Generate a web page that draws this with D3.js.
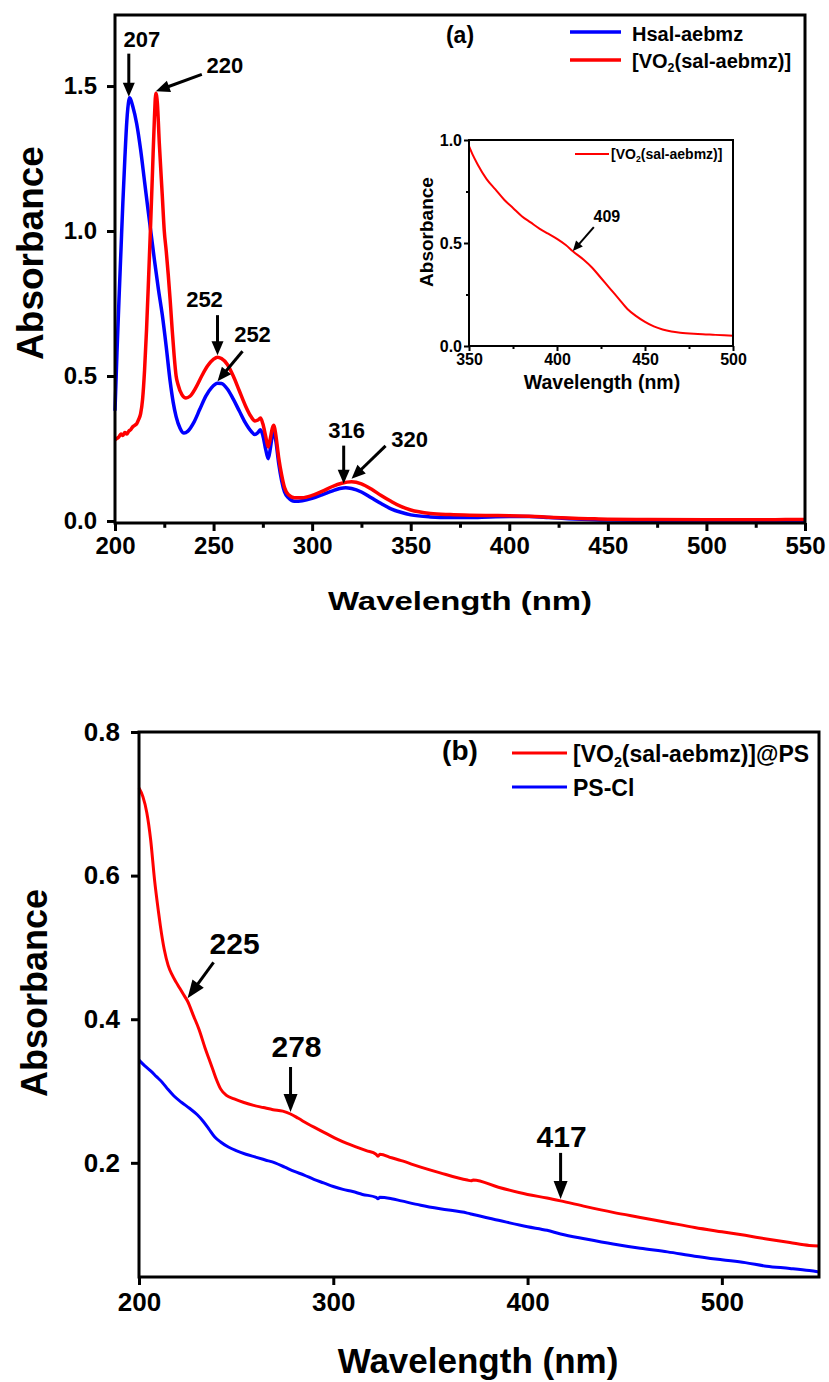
<!DOCTYPE html>
<html>
<head>
<meta charset="utf-8">
<script src="https://cdn.jsdelivr.net/npm/d3@7"></script>
<style>
  body { margin: 0; background: #fff; }
  text { font-family: "Liberation Sans", Arial, sans-serif; font-weight: bold; fill: #000; }
</style>
</head>
<body>
<script>
// ---- data ----
// panel (a): free ligand and complex, [wavelength nm, absorbance]
var hsal = [[200,0.38],[201,0.58],[202,0.76],[203,0.93],[204,1.1],[205,1.25],[206,1.38],[207,1.45],[207.5,1.46],
  [209,1.43],[211,1.37],[213,1.28],[215,1.17],[217,1.06],[218.5,0.98],[220,0.9],[222,0.8],[224,0.71],[226,0.6],
  [228,0.48],[229.5,0.41],[231,0.36],[233,0.32],[235,0.303],[237,0.31],[240,0.34],[243,0.385],[246,0.43],[249,0.46],
  [252,0.475],[254,0.474],[257,0.455],[260,0.42],[263,0.38],[266,0.34],[269,0.31],[271,0.298],[272.5,0.305],
  [273.8,0.315],[275,0.295],[276.5,0.245],[277.7,0.215],[278.8,0.25],[279.8,0.295],[280.6,0.305],[281.5,0.28],
  [283,0.2],[284.5,0.14],[286,0.1],[288,0.08],[291,0.068],[295,0.07],[300,0.078],[305,0.09],[310,0.103],[314,0.112],
  [317,0.115],[320,0.112],[325,0.1],[330,0.08],[335,0.06],[340,0.042],[345,0.03],[350,0.021],[360,0.014],[370,0.012],
  [380,0.012],[390,0.014],[400,0.015],[410,0.015],[420,0.012],[430,0.008],[440,0.005],[450,0.003],[470,0.002],
  [500,0.001],[550,0.0]];
var vo2 = [[200,0.28],[201,0.285],[202,0.29],[203,0.3],[204,0.295],[205,0.305],[206,0.3],[207,0.31],[208,0.315],
  [209,0.325],[210,0.33],[211,0.335],[212,0.35],[213,0.37],[214,0.42],[215,0.52],[216,0.66],[217,0.83],[218,1.01],
  [219,1.2],[220,1.39],[220.7,1.475],[221.5,1.44],[222.5,1.3],[224,1.12],[225,1.0],[226,0.93],[227,0.85],[228,0.76],
  [229,0.66],[230,0.57],[231,0.5],[232,0.47],[234,0.435],[236,0.424],[238,0.43],[241,0.46],[244,0.5],[247,0.535],
  [250,0.558],[252,0.565],[254,0.56],[257,0.54],[260,0.5],[263,0.45],[266,0.4],[269,0.36],[271,0.345],[272.5,0.348],
  [273.8,0.355],[275,0.335],[276.5,0.29],[277.7,0.255],[278.8,0.285],[279.8,0.32],[280.6,0.33],[281.5,0.3],
  [283,0.22],[284.5,0.16],[286,0.115],[288,0.09],[291,0.08],[295,0.08],[300,0.088],[305,0.102],[310,0.118],
  [315,0.13],[320,0.135],[325,0.128],[330,0.11],[335,0.088],[340,0.068],[345,0.05],[350,0.038],[360,0.026],
  [370,0.022],[380,0.02],[390,0.019],[400,0.018],[410,0.016],[420,0.013],[430,0.01],[440,0.008],[450,0.006],
  [470,0.005],[500,0.004],[530,0.004],[540,0.005],[550,0.005]];
// inset: complex, visible region
var vo2Vis = [[350,0.97],[352,0.93],[355,0.88],[360,0.81],[365,0.76],[370,0.71],[375,0.67],[380,0.63],[385,0.6],
  [390,0.57],[395,0.545],[400,0.52],[405,0.49],[409,0.46],[415,0.42],[420,0.38],[425,0.33],[430,0.28],[435,0.23],
  [440,0.18],[445,0.145],[450,0.117],[455,0.095],[460,0.08],[465,0.07],[470,0.064],[480,0.058],[490,0.054],[500,0.05]];
// panel (b): supported catalyst and support
var vo2PS = [[200,0.722],[202,0.71],[204,0.688],[206,0.65],[208,0.594],[210,0.55],[211,0.53],[213,0.497],[215,0.475],
  [217,0.462],[219,0.452],[221,0.443],[223,0.434],[225,0.425],[228,0.405],[231,0.385],[234,0.36],[236,0.345],
  [238,0.33],[240,0.315],[242,0.303],[245,0.294],[249,0.289],[254,0.284],[259,0.28],[264,0.277],[269,0.274],
  [274,0.272],[278,0.268],[282,0.262],[287,0.254],[292,0.247],[297,0.24],[302,0.233],[307,0.227],[312,0.222],
  [317,0.217],[322,0.212],[323,0.209],[324,0.212],[330,0.207],[335,0.203],[345,0.194],[355,0.186],[369,0.176],
  [371,0.175],[372,0.176],[385,0.166],[400,0.156],[410,0.151],[417,0.147],[430,0.139],[444,0.131],[458,0.124],
  [472,0.117],[486,0.11],[500,0.104],[512,0.099],[523,0.094],[535,0.089],[545,0.085],[550,0.084]];
var psCl = [[200,0.343],[203,0.335],[206,0.328],[209,0.32],[212,0.312],[215,0.302],[218,0.293],[222,0.284],
  [226,0.276],[230,0.267],[233,0.258],[236,0.247],[239,0.236],[242,0.229],[246,0.222],[250,0.217],[255,0.212],
  [260,0.208],[265,0.204],[270,0.2],[275,0.194],[280,0.188],[285,0.183],[290,0.177],[295,0.172],[300,0.167],
  [305,0.163],[310,0.16],[315,0.156],[322,0.152],[323,0.15],[324,0.152],[330,0.15],[335,0.147],[345,0.141],
  [355,0.136],[369,0.13],[372,0.128],[385,0.12],[400,0.111],[410,0.106],[417,0.101],[430,0.094],[444,0.087],
  [458,0.081],[472,0.076],[486,0.07],[500,0.065],[512,0.061],[523,0.056],[535,0.053],[545,0.05],[550,0.048]];

// marked peaks: [wavelength, absorbance, label]
var peaksA = [[207,1.46,"207"],[220.7,1.475,"220"],[252,0.565,"252"],[252,0.475,"252"],[316,0.115,"316"],[320,0.135,"320"]];
var peaksInset = [[409,0.456,"409"]];
var peaksB = [[225,0.425,"225"],[278,0.268,"278"],[417,0.147,"417"]];

// tick values
var xTicksA = [200,250,300,350,400,450,500,550], xMinorA = [225,275,325,375,425,475,525],
    yTicksA = [0,0.5,1.0,1.5];
var xTicksIn = [350,400,450,500], xMinorIn = [375,425,475], yTicksIn = [0,0.5,1.0], yMinorIn = [0.25,0.75];
var xTicksB = [200,300,400,500], yTicksB = [0.2,0.4,0.6,0.8];

var BLUE = "#0000ff", RED = "#ff0000";

var svg = d3.select("body").append("svg").attr("width", 829).attr("height", 1382);
svg.append("rect").attr("width", 829).attr("height", 1382).attr("fill", "#fff");

function arrow(g, x1, y1, x2, y2, hl, hw, sw) {
  var a = Math.atan2(y2 - y1, x2 - x1), c = Math.cos(a), s = Math.sin(a);
  var bx = x2 - hl * c, by = y2 - hl * s;
  g.append("line").attr("x1", x1).attr("y1", y1).attr("x2", bx + c).attr("y2", by + s)
    .attr("stroke", "#000").attr("stroke-width", sw);
  g.append("path").attr("fill", "#000")
    .attr("d", "M" + x2 + "," + y2 + "L" + (bx - hw / 2 * s) + "," + (by + hw / 2 * c) +
               "L" + (bx + hw / 2 * s) + "," + (by - hw / 2 * c) + "Z");
}

function legendLabel(t, base, size) {
  t.append("tspan").text("[VO");
  t.append("tspan").text("2").attr("font-size", size * 0.62).attr("dy", size * 0.22);
  t.append("tspan").text("(sal-aebmz)]" + base).attr("dy", -size * 0.22);
}

function axes(g, x, y, o) {
  var H = y.range()[0], L = x.range()[0];
  g.append("g").attr("transform", "translate(0," + H + ")")
    .call(d3.axisBottom(x).tickValues(o.xt).tickSize(o.tl).tickSizeOuter(0).tickPadding(o.xp).tickFormat(d3.format("d")));
  if (o.xm) g.append("g").attr("transform", "translate(0," + H + ")")
    .call(d3.axisBottom(x).tickValues(o.xm).tickSize(o.tl * 0.6).tickSizeOuter(0).tickFormat(""));
  g.append("g").attr("transform", "translate(" + L + ",0)")
    .call(d3.axisLeft(y).tickValues(o.yt).tickSize(o.tl).tickSizeOuter(0).tickPadding(o.yp).tickFormat(d3.format(".1f")));
  if (o.ym) g.append("g").attr("transform", "translate(" + L + ",0)")
    .call(d3.axisLeft(y).tickValues(o.ym).tickSize(o.tl * 0.6).tickSizeOuter(0).tickFormat(""));
  g.selectAll(".domain").remove();
  g.selectAll(".tick line").attr("stroke", "#000").attr("stroke-width", o.sw);
  g.selectAll(".tick text").attr("font-size", o.fs).attr("font-family", "Liberation Sans, Arial, sans-serif")
    .attr("font-weight", "bold").attr("fill", "#000");
  g.append("rect").attr("x", L).attr("y", y.range()[1]).attr("width", x.range()[1] - L)
    .attr("height", H - y.range()[1]).attr("fill", "none").attr("stroke", "#000").attr("stroke-width", o.sw);
}

// ================= panel (a) =================
var xA = d3.scaleLinear().domain([200, 550]).range([115, 805]);
var yA = d3.scaleLinear().domain([-0.007, 1.745]).range([523, 15]);
var gA = svg.append("g");
var lineA = d3.line().x(function(d) { return xA(d[0]); }).y(function(d) { return yA(d[1]); }).curve(d3.curveMonotoneX);

gA.append("path").datum(hsal).attr("d", lineA).attr("fill", "none").attr("stroke", BLUE).attr("stroke-width", 3.5);
gA.append("path").datum(vo2).attr("d", lineA).attr("fill", "none").attr("stroke", RED).attr("stroke-width", 3.5);
axes(gA, xA, yA, {xt: xTicksA, xm: xMinorA, yt: yTicksA, tl: 8, xp: 6, yp: 10, sw: 3, fs: 24});

gA.append("text").attr("x", 460).attr("y", 610).attr("text-anchor", "middle").attr("font-size", 26)
  .attr("textLength", 264).attr("lengthAdjust", "spacingAndGlyphs").text("Wavelength (nm)");
gA.append("text").attr("transform", "translate(43,253) rotate(-90)").attr("text-anchor", "middle")
  .attr("font-size", 37).text("Absorbance");
gA.append("text").attr("x", 460).attr("y", 43).attr("text-anchor", "middle").attr("font-size", 23).text("(a)");

// legend (a)
gA.append("line").attr("x1", 570).attr("x2", 621).attr("y1", 32).attr("y2", 32).attr("stroke", BLUE).attr("stroke-width", 3.5);
gA.append("text").attr("x", 632).attr("y", 41).attr("font-size", 20).text("Hsal-aebmz");
gA.append("line").attr("x1", 570).attr("x2", 621).attr("y1", 60).attr("y2", 60).attr("stroke", RED).attr("stroke-width", 3.5);
legendLabel(gA.append("text").attr("x", 632).attr("y", 68).attr("font-size", 20), "", 20);

// peak arrows (a): [tail dx, tail dy, label dx, label dy, tip lift]
var layA = [[0, -43, 13, -50, 1], [46, -17, 69, -18, 2], [0, -40, -13, -48, 2], [25, -30, 35, -39, 2],
            [0, -38, 3, -46, 4], [34, -33, 58, -32, 3]];
peaksA.forEach(function(p, i) {
  var l = layA[i], tx = xA(p[0]), ty = yA(p[1]) - l[4];
  arrow(gA, tx + l[0], ty + l[1], tx, ty, 14, 12, 3);
  gA.append("text").attr("x", tx + l[2]).attr("y", ty + l[3]).attr("text-anchor", "middle")
    .attr("font-size", 22).text(p[2]);
});

// ---- inset ----
var xI = d3.scaleLinear().domain([350, 500]).range([469, 733]);
var yI = d3.scaleLinear().domain([0, 1]).range([346, 140]);
var gI = svg.append("g");
var lineI = d3.line().x(function(d) { return xI(d[0]); }).y(function(d) { return yI(d[1]); }).curve(d3.curveMonotoneX);
gI.append("path").datum(vo2Vis).attr("d", lineI).attr("fill", "none").attr("stroke", RED).attr("stroke-width", 2);
axes(gI, xI, yI, {xt: xTicksIn, xm: xMinorIn, yt: yTicksIn, ym: yMinorIn, tl: 5, xp: 3, yp: 2, sw: 2, fs: 16});
gI.append("text").attr("x", 602).attr("y", 389).attr("text-anchor", "middle").attr("font-size", 19.5).text("Wavelength (nm)");
gI.append("text").attr("transform", "translate(433,232) rotate(-90)").attr("text-anchor", "middle")
  .attr("font-size", 19).text("Absorbance");
gI.append("line").attr("x1", 575).attr("x2", 609).attr("y1", 154).attr("y2", 154).attr("stroke", RED).attr("stroke-width", 2);
legendLabel(gI.append("text").attr("x", 611).attr("y", 159).attr("font-size", 14), "", 14);
peaksInset.forEach(function(p) {
  var tx = xI(p[0]), ty = yI(p[1]) - 1;
  arrow(gI, tx + 21, ty - 24, tx, ty, 10, 9, 2);
  gI.append("text").attr("x", tx + 34).attr("y", ty - 29).attr("text-anchor", "middle").attr("font-size", 16).text(p[2]);
});

// ================= panel (b) =================
var xB = d3.scaleLinear().domain([200, 550]).range([139, 819]);
var yB = d3.scaleLinear().domain([0.041, 0.8]).range([1277, 732]);
var gB = svg.append("g");
var lineB = d3.line().x(function(d) { return xB(d[0]); }).y(function(d) { return yB(d[1]); }).curve(d3.curveMonotoneX);
gB.append("path").datum(vo2PS).attr("d", lineB).attr("fill", "none").attr("stroke", RED).attr("stroke-width", 3);
gB.append("path").datum(psCl).attr("d", lineB).attr("fill", "none").attr("stroke", BLUE).attr("stroke-width", 3);
axes(gB, xB, yB, {xt: xTicksB, yt: yTicksB, tl: 8, xp: 8, yp: 11, sw: 3, fs: 26});

gB.append("text").attr("x", 478).attr("y", 1373).attr("text-anchor", "middle").attr("font-size", 35).text("Wavelength (nm)");
gB.append("text").attr("transform", "translate(47,993) rotate(-90)").attr("text-anchor", "middle")
  .attr("font-size", 36).text("Absorbance");
gB.append("text").attr("x", 460).attr("y", 760).attr("text-anchor", "middle").attr("font-size", 28).text("(b)");

gB.append("line").attr("x1", 512).attr("x2", 567).attr("y1", 753).attr("y2", 753).attr("stroke", RED).attr("stroke-width", 3);
legendLabel(gB.append("text").attr("x", 573).attr("y", 762).attr("font-size", 23), "@PS", 23);
gB.append("line").attr("x1", 512).attr("x2", 567).attr("y1", 787).attr("y2", 787).attr("stroke", BLUE).attr("stroke-width", 3);
gB.append("text").attr("x", 573).attr("y", 796).attr("font-size", 23).text("PS-Cl");

var layB = [[26, -36, 47, -44, 3], [0, -45, 6, -55, 2], [0, -46, 1, -52, 2]];
peaksB.forEach(function(p, i) {
  var l = layB[i], tx = xB(p[0]), ty = yB(p[1]) - l[4];
  arrow(gB, tx + l[0], ty + l[1], tx, ty, 18, 14, 3);
  gB.append("text").attr("x", tx + l[2]).attr("y", ty + l[3]).attr("text-anchor", "middle")
    .attr("font-size", 30).text(p[2]);
});
</script>
</body>
</html>
